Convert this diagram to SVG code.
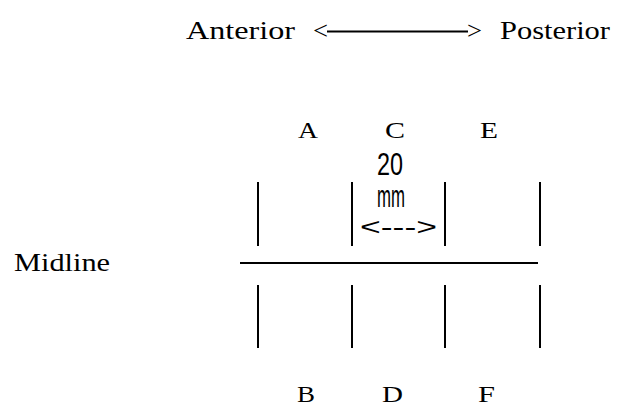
<svg xmlns="http://www.w3.org/2000/svg" width="618" height="407" viewBox="0 0 618 407">
<style>
.serif{font-family:"Liberation Serif","Times New Roman",serif;fill:#000;}
.sans{font-family:"Liberation Sans",Arial,sans-serif;fill:#000;}
.ln{stroke:#000;stroke-width:2;fill:none;}
</style>
<rect width="618" height="407" fill="#fff"/>
<g id="header">
<text class="serif" x="186" y="39" font-size="26" textLength="109" lengthAdjust="spacingAndGlyphs">Anterior</text>
<text class="serif" x="313" y="39" font-size="26" textLength="15" lengthAdjust="spacingAndGlyphs">&lt;</text>
<line class="ln" x1="327" y1="31.5" x2="468" y2="31.5" stroke-width="1.5"/>
<text class="serif" x="467" y="39" font-size="26" textLength="15" lengthAdjust="spacingAndGlyphs">&gt;</text>
<text class="serif" x="500" y="39" font-size="26" textLength="110" lengthAdjust="spacingAndGlyphs">Posterior</text>
</g>
<g id="midline-label">
<text class="serif" x="14" y="271" font-size="25" textLength="96" lengthAdjust="spacingAndGlyphs">Midline</text>
</g>
<g id="labels">
<text class="serif" x="298" y="138" font-size="23" textLength="20" lengthAdjust="spacingAndGlyphs">A</text>
<text class="serif" x="385" y="138" font-size="23" textLength="20" lengthAdjust="spacingAndGlyphs">C</text>
<text class="serif" x="480" y="138" font-size="23" textLength="18" lengthAdjust="spacingAndGlyphs">E</text>
<text class="serif" x="297" y="402" font-size="23" textLength="18" lengthAdjust="spacingAndGlyphs">B</text>
<text class="serif" x="382" y="402" font-size="23" textLength="21" lengthAdjust="spacingAndGlyphs">D</text>
<text class="serif" x="478" y="402" font-size="23" textLength="17" lengthAdjust="spacingAndGlyphs">F</text>
</g>
<g id="dimension">
<text class="sans" x="377" y="175" font-size="31" textLength="26" lengthAdjust="spacingAndGlyphs">20</text>
<text class="sans" x="377" y="207" font-size="31" textLength="28" lengthAdjust="spacingAndGlyphs">mm</text>
<text class="sans" x="360" y="235" font-size="24" textLength="77" lengthAdjust="spacingAndGlyphs">&lt;---&gt;</text>
</g>
<g id="connectors">
<line class="ln" x1="240" y1="263" x2="538" y2="263"/>
<line class="ln" x1="258" y1="182" x2="258" y2="246"/>
<line class="ln" x1="352" y1="182" x2="352" y2="246"/>
<line class="ln" x1="445" y1="182" x2="445" y2="246"/>
<line class="ln" x1="540" y1="182" x2="540" y2="246"/>
<line class="ln" x1="258" y1="285" x2="258" y2="348"/>
<line class="ln" x1="352" y1="285" x2="352" y2="348"/>
<line class="ln" x1="445" y1="285" x2="445" y2="348"/>
<line class="ln" x1="540" y1="285" x2="540" y2="348"/>
</g>
</svg>
